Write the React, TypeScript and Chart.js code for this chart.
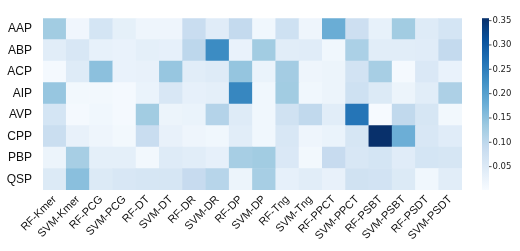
import React, { useEffect, useRef } from "react";
import { Chart, registerables } from "chart.js";

Chart.register(...registerables);

const rowLabels = ["AAP", "ABP", "ACP", "AIP", "AVP", "CPP", "PBP", "QSP"];
const methods = [
  "RF-Kmer", "SVM-Kmer", "RF-PCG", "SVM-PCG", "RF-DT", "SVM-DT", "RF-DR", "SVM-DR", "RF-DP",
  "SVM-DP", "RF-Tng", "SVM-Tng", "RF-PPCT", "SVM-PPCT", "RF-PSBT", "SVM-PSBT", "RF-PSDT", "SVM-PSDT",
];

const AAP = [0.13, 0.015, 0.064, 0.033, 0.018, 0.018, 0.085, 0.043, 0.092, 0.014, 0.075, 0.018, 0.18, 0.078, 0.03, 0.13, 0.046, 0.064];
const ABP = [0.04, 0.057, 0.03, 0.026, 0.036, 0.032, 0.1, 0.23, 0.026, 0.13, 0.04, 0.043, 0.014, 0.12, 0.04, 0.04, 0.043, 0.092];
const ACP = [0.008, 0.046, 0.15, 0.026, 0.029, 0.14, 0.04, 0.046, 0.142, 0.025, 0.128, 0.018, 0.022, 0.068, 0.124, 0.008, 0.054, 0.026];
const AIP = [0.14, 0.011, 0.011, 0.008, 0.025, 0.057, 0.032, 0.036, 0.238, 0.014, 0.13, 0.014, 0.022, 0.075, 0.05, 0.022, 0.04, 0.118];
const AVP = [0.064, 0.008, 0.014, 0.008, 0.13, 0.022, 0.025, 0.11, 0.046, 0.014, 0.071, 0.096, 0.04, 0.262, 0.004, 0.096, 0.06, 0.011];
const CPP = [0.082, 0.029, 0.018, 0.011, 0.085, 0.029, 0.018, 0.014, 0.04, 0.014, 0.057, 0.018, 0.025, 0.06, 0.355, 0.178, 0.057, 0.043];
const PBP = [0.022, 0.124, 0.036, 0.036, 0.011, 0.046, 0.04, 0.032, 0.124, 0.13, 0.054, 0.011, 0.089, 0.057, 0.064, 0.043, 0.064, 0.06];
const QSP = [0.05, 0.152, 0.05, 0.057, 0.06, 0.06, 0.089, 0.107, 0.022, 0.124, 0.032, 0.04, 0.029, 0.071, 0.068, 0.05, 0.014, 0.04];

const rowValues = [AAP, ABP, ACP, AIP, AVP, CPP, PBP, QSP];
const colorbarTicks = [0.05, 0.1, 0.15, 0.2, 0.25, 0.3, 0.35];
const vMin = 0.002;
const vMax = 0.355;

const bluesStops = [
  [247, 251, 255], [222, 235, 247], [198, 219, 239], [158, 202, 225], [107, 174, 214],
  [66, 146, 198], [33, 113, 181], [8, 81, 156], [8, 48, 107],
];

function bluesAt(t: number): string {
  const c = Math.max(0, Math.min(1, t)) * 8;
  const i = Math.min(7, Math.floor(c));
  const f = c - i;
  const a = bluesStops[i];
  const b = bluesStops[i + 1];
  const r = Math.round(a[0] + (b[0] - a[0]) * f);
  const g = Math.round(a[1] + (b[1] - a[1]) * f);
  const bl = Math.round(a[2] + (b[2] - a[2]) * f);
  return `rgb(${r},${g},${bl})`;
}

function colorFor(v: number): string {
  return bluesAt((v - vMin) / (vMax - vMin));
}

const colorbarPlugin = {
  id: "colorbar",
  afterDraw(chart: any) {
    const { ctx, chartArea } = chart;
    const x0 = chartArea.right + 20;
    const w = 7;
    const top = chartArea.top;
    const bottom = chartArea.bottom;
    const grad = ctx.createLinearGradient(0, bottom, 0, top);
    for (let k = 0; k <= 16; k++) {
      grad.addColorStop(k / 16, bluesAt(k / 16));
    }
    ctx.save();
    ctx.fillStyle = grad;
    ctx.fillRect(x0, top, w, bottom - top);
    ctx.strokeStyle = "#222";
    ctx.lineWidth = 0.8;
    ctx.fillStyle = "#222";
    ctx.font = "8.5px 'DejaVu Sans'";
    ctx.textAlign = "left";
    ctx.textBaseline = "middle";
    for (const v of colorbarTicks) {
      const y = bottom - ((v - vMin) / (vMax - vMin)) * (bottom - top);
      ctx.beginPath();
      ctx.moveTo(x0 + w, y);
      ctx.lineTo(x0 + w + 2.5, y);
      ctx.stroke();
      ctx.fillText(v.toFixed(2), x0 + w + 3.5, y);
    }
    ctx.restore();
  },
};

export default function App() {
  const canvasRef = useRef<HTMLCanvasElement | null>(null);

  useEffect(() => {
    if (!canvasRef.current) return;
    const datasets = rowValues
      .map((vals, r) => ({
        label: rowLabels[r],
        data: methods.map(() => 1),
        backgroundColor: vals.map(colorFor),
        borderWidth: 0,
        barPercentage: 1,
        categoryPercentage: 1,
      }))
      .reverse();

    const chart = new Chart(canvasRef.current, {
      type: "bar",
      data: { labels: methods, datasets },
      options: {
        animation: false,
        responsive: false,
        maintainAspectRatio: false,
        layout: { padding: { top: 5, right: 58, left: 0, bottom: 0 } },
        plugins: { legend: { display: false }, tooltip: { enabled: false } },
        scales: {
          x: {
            stacked: true,
            grid: { display: false, drawTicks: false },
            border: { display: false },
            ticks: {
              color: "#111",
              font: { family: "'Liberation Sans', Arial, sans-serif", size: 11 },
              minRotation: 45,
              maxRotation: 45,
              autoSkip: false,
              padding: 3,
            },
            afterFit: (s: any) => {
              s.height = 61;
            },
          },
          y: {
            stacked: true,
            min: 0,
            max: 8,
            grid: { display: false, drawTicks: false },
            border: { display: false },
            afterBuildTicks: (s: any) => {
              s.ticks = [0.5, 1.5, 2.5, 3.5, 4.5, 5.5, 6.5, 7.5].map((v) => ({ value: v }));
            },
            ticks: {
              color: "#111",
              font: { family: "'Liberation Sans', Arial, sans-serif", size: 12 },
              padding: 11,
              autoSkip: false,
              callback: (v: any) => rowLabels[7 - Math.floor(Number(v))],
            },
            afterFit: (s: any) => {
              s.width = 43;
            },
          },
        },
      },
      plugins: [colorbarPlugin],
    });
    return () => chart.destroy();
  }, []);

  return (
    <div style={{ position: "fixed", left: 0, top: 0, width: 520, height: 251, background: "#fff" }}>
      <canvas ref={canvasRef} width={520} height={251} style={{ width: 520, height: 251 }} />
    </div>
  );
}
